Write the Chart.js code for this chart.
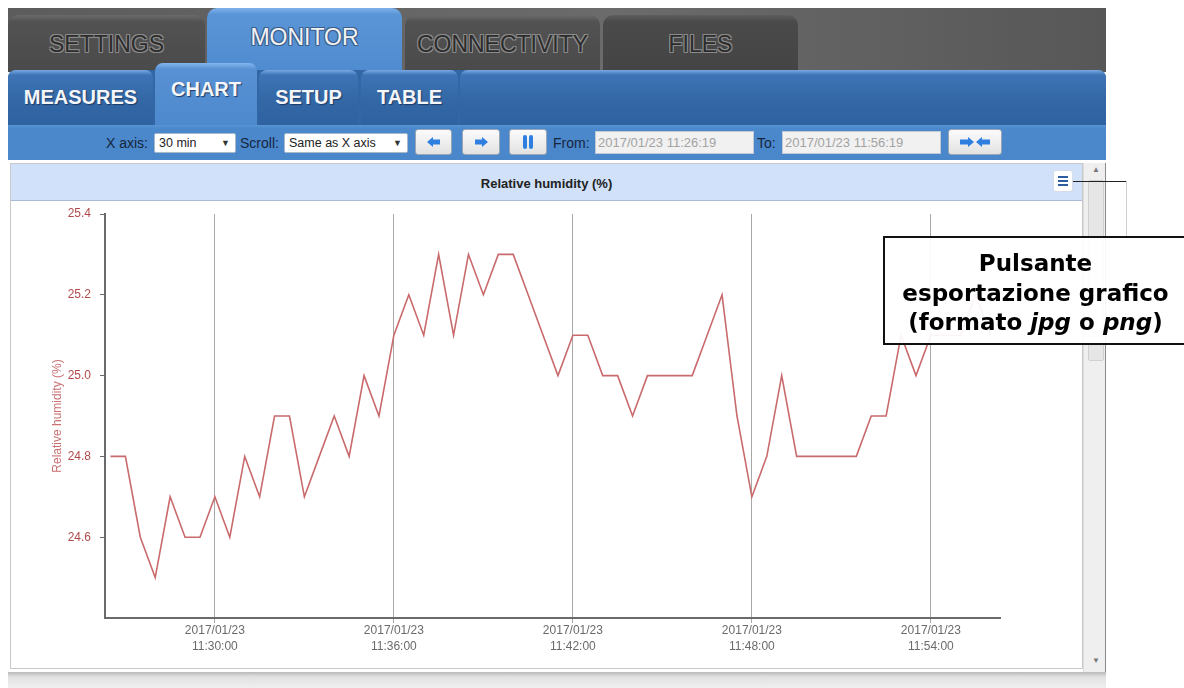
<!DOCTYPE html>
<html><head><meta charset="utf-8">
<script src="https://cdn.jsdelivr.net/npm/chart.js@4.4.1/dist/chart.umd.min.js"></script>
<style>
html,body{margin:0;padding:0;background:#fff;width:1184px;height:688px;overflow:hidden;font-family:"Liberation Sans",Arial,sans-serif;}
.a{position:absolute;box-sizing:border-box;}
.ttab{position:absolute;box-sizing:border-box;top:15px;height:57px;border-radius:10px 10px 0 0;background:linear-gradient(#6a6a6a,#525252 12%,#4a4a4a);font-size:23px;color:#2c2c2c;text-align:center;line-height:58px;
 text-shadow:-1px -1px 0 #8c8c8c,1px 1px 0 #8c8c8c,1px -1px 0 #8c8c8c,-1px 1px 0 #8c8c8c;}
.stab{position:absolute;box-sizing:border-box;top:70px;height:55px;border-radius:8px 8px 0 0;background:linear-gradient(#79a9e3,#3e74b6 5px,#3266a4 60%,#2f62a0);color:#f4f6fa;font-size:20px;font-weight:bold;text-align:center;line-height:54px;text-shadow:1px 1px 1px #1c3a66;}
.lbl{position:absolute;font-size:14px;color:#15263d;top:135px;}
.sel{position:absolute;box-sizing:border-box;top:133px;height:20px;background:#fff;border:1px solid #a9b9cc;border-radius:2px;font-size:12.5px;color:#222;line-height:18px;padding-left:4px;}
.sel span{position:absolute;right:5px;top:0;font-size:9px;color:#333;}
.btn{position:absolute;box-sizing:border-box;top:129px;height:26px;border:1px solid #9aa6b4;border-radius:3px;background:linear-gradient(#fbfbfb,#e2e2e2);display:flex;align-items:center;justify-content:center;}
.inp{position:absolute;box-sizing:border-box;top:131px;height:23px;width:159px;background:#f1f1f1;border:1px solid #c3c9d1;font-size:13px;color:#a3a3a3;line-height:21px;padding-left:2px;}
</style></head>
<body>
<!-- top tab bar -->
<div class="a" style="left:8px;top:8px;width:1098px;height:64px;background:linear-gradient(90deg,#5c5c5c,#6b6b6b 55%,#575757);"></div>
<div class="ttab" style="left:8px;width:197px;">SETTINGS</div>
<div class="a" style="left:207px;top:8px;width:195px;height:64px;border-radius:10px 10px 0 0;background:linear-gradient(#7fb2ec,#5a95d7 10%,#4f8bcf);color:#f2f2f2;font-size:23px;text-align:center;line-height:58px;text-shadow:-1px -1px 0 #3b5f8c,1px 1px 0 #3b5f8c,1px -1px 0 #3b5f8c,-1px 1px 0 #3b5f8c;">MONITOR</div>
<div class="ttab" style="left:405px;width:195px;">CONNECTIVITY</div>
<div class="ttab" style="left:603px;width:195px;background:linear-gradient(#5e5e5e,#4a4a4a 12%,#444);">FILES</div>
<!-- sub tab bar -->
<div class="a" style="left:8px;top:70px;width:1098px;height:55px;background:#3266a4;border-radius:8px 8px 0 0;"></div>
<div class="stab" style="left:8px;width:145px;">MEASURES</div>
<div class="stab" style="left:155px;top:63px;height:62px;width:102px;line-height:52px;background:linear-gradient(#84b6ee,#5891d4 6px,#4d89cd);">CHART</div>
<div class="stab" style="left:259px;width:99px;">SETUP</div>
<div class="stab" style="left:361px;width:97px;">TABLE</div>
<div class="stab" style="left:460px;width:646px;"></div>
<!-- toolbar -->
<div class="a" style="left:8px;top:125px;width:1098px;height:35px;background:linear-gradient(#5b95d6,#4b88cc 3px,#4a86ca);"></div>
<div class="lbl" style="left:106px;">X axis:</div>
<div class="sel" style="left:154px;width:82px;">30 min<span>&#9660;</span></div>
<div class="lbl" style="left:240px;">Scroll:</div>
<div class="sel" style="left:284px;width:124px;">Same as X axis<span>&#9660;</span></div>
<div class="btn" style="left:415px;width:37px;"><svg width="14" height="10"><polygon points="0,5 6,0 6,2.5 13,2.5 13,7.5 6,7.5 6,10" fill="#2f7fe0"/></svg></div>
<div class="btn" style="left:462px;width:38px;"><svg width="14" height="10"><polygon points="14,5 8,0 8,2.5 1,2.5 1,7.5 8,7.5 8,10" fill="#2f7fe0"/></svg></div>
<div class="btn" style="left:509px;width:38px;"><svg width="12" height="16"><rect x="1" y="1" width="4" height="14" rx="2" fill="#2f7fe0"/><rect x="7" y="1" width="4" height="14" rx="2" fill="#2f7fe0"/></svg></div>
<div class="lbl" style="left:553px;">From:</div>
<div class="inp" style="left:595px;">2017/01/23 11:26:19</div>
<div class="lbl" style="left:757px;">To:</div>
<div class="inp" style="left:782px;">2017/01/23 11:56:19</div>
<div class="btn" style="left:948px;width:54px;"><svg width="30" height="10"><polygon points="14,5 8,0 8,2.5 0,2.5 0,7.5 8,7.5 8,10" fill="#2f7fe0"/><polygon points="16,5 22,0 22,2.5 30,2.5 30,7.5 22,7.5 22,10" fill="#2f7fe0"/></svg></div>
<!-- chart panel -->
<div class="a" style="left:10px;top:163px;width:1073px;height:506px;border:1px solid #c9c9c9;background:#fff;"></div>
<div class="a" style="left:11px;top:164px;width:1071px;height:37px;background:#d0e1f9;border-bottom:1px solid #a9bad3;font-weight:bold;font-size:13px;color:#222;text-align:center;line-height:39px;">Relative humidity (%)</div>
<div class="a" style="left:1053px;top:170px;width:20px;height:22px;background:#fff;border:1px solid #d6dde8;border-radius:3px;">
 <div class="a" style="left:4px;top:5px;width:10px;height:2px;background:#2b5da0;"></div>
 <div class="a" style="left:4px;top:9px;width:10px;height:2px;background:#2b5da0;"></div>
 <div class="a" style="left:4px;top:13px;width:10px;height:2px;background:#2b5da0;"></div>
</div>
<!-- scrollbar -->
<div class="a" style="left:1083px;top:163px;width:23px;height:512px;background:#efefef;border-left:1px solid #dcdcdc;border-right:1px solid #8c8c8c;"></div>
<div class="a" style="left:1088px;top:180px;width:16px;height:181px;background:#e6e6e6;border:1px solid #d0d0d0;border-radius:2px;"></div>
<div class="a" style="left:1092px;top:165px;font-size:8px;color:#777;">&#9650;</div>
<div class="a" style="left:1092px;top:656px;font-size:8px;color:#777;">&#9660;</div>
<!-- bottom strip -->
<div class="a" style="left:8px;top:672px;width:1098px;height:16px;background:linear-gradient(#b9b9b9,#e2e2e2 5px,#efefef);"></div>
<!-- chart canvas -->
<canvas id="c" class="a" width="1070" height="466" style="left:11px;top:201px;width:1070px;height:466px;"></canvas>
<!-- callout -->
<div class="a" style="left:1073px;top:181px;width:54px;height:1px;background:#222;z-index:5;"></div>
<div class="a" style="left:1126px;top:181px;width:1px;height:55px;background:#cfcfcf;z-index:5;"></div>
<div class="a" style="left:883px;top:236px;width:305px;height:109px;border:2px solid #111;background:rgba(255,255,255,0.93);z-index:6;text-align:center;font-family:'DejaVu Sans',Verdana,sans-serif;font-weight:bold;font-size:23px;line-height:29.5px;padding-top:11px;color:#000;">Pulsante<br>esportazione grafico<br>(formato <i>jpg</i> o <i>png</i>)</div>
<script>
const dateLabel = "2017/01/23";
const axisStart = "11:26:19";
const axisEnd = "11:56:19";
const xTickTimes = ["11:30:00","11:36:00","11:42:00","11:48:00","11:54:00"];
const yTickValues = [24.6, 24.8, 25.0, 25.2, 25.4];
const yMin = 24.4, yMax = 25.4;
const sampleTimes = [
 "11:26:30","11:27:00","11:27:30","11:28:00","11:28:30","11:29:00","11:29:30","11:30:00","11:30:30","11:31:00",
 "11:31:30","11:32:00","11:32:30","11:33:00","11:33:30","11:34:00","11:34:30","11:35:00","11:35:30","11:36:00",
 "11:36:30","11:37:00","11:37:30","11:38:00","11:38:30","11:39:00","11:39:30","11:40:00","11:40:30","11:41:00",
 "11:41:30","11:42:00","11:42:30","11:43:00","11:43:30","11:44:00","11:44:30","11:45:00","11:45:30","11:46:00",
 "11:46:30","11:47:00","11:47:30","11:48:00","11:48:30","11:49:00","11:49:30","11:50:00","11:50:30","11:51:00",
 "11:51:30","11:52:00","11:52:30","11:53:00","11:53:30","11:54:00","11:54:30","11:55:00","11:55:30","11:56:00"];
const humidity = [
 24.8,24.8,24.6,24.5,24.7,24.6,24.6,24.7,24.6,24.8,
 24.7,24.9,24.9,24.7,24.8,24.9,24.8,25.0,24.9,25.1,
 25.2,25.1,25.3,25.1,25.3,25.2,25.3,25.3,25.2,25.1,
 25.0,25.1,25.1,25.0,25.0,24.9,25.0,25.0,25.0,25.0,
 25.1,25.2,24.9,24.7,24.8,25.0,24.8,24.8,24.8,24.8,
 24.8,24.9,24.9,25.1,25.0,25.1,25.1,25.1,25.2,25.1];
const seriesName = "Relative humidity (%)";

function toSec(s){const p=s.split(':').map(Number);return p[0]*3600+p[1]*60+p[2];}
const FONT = "'Liberation Sans', Arial, sans-serif";

new Chart(document.getElementById('c'), {
  type: 'line',
  data: { datasets: [{
    label: seriesName,
    data: sampleTimes.map((t,i)=>({x:toSec(t), y:humidity[i]})),
    borderColor: '#c96a6c', borderWidth: 1.6, pointRadius: 0, tension: 0, fill: false
  }]},
  options: {
    responsive: false, animation: false, devicePixelRatio: 1,
    layout: { padding: { left: 30, top: 13, right: 81, bottom: 0 } },
    plugins: { legend: { display: false }, tooltip: { enabled: false } },
    scales: {
      x: {
        type: 'linear', min: toSec(axisStart), max: toSec(axisEnd),
        afterBuildTicks: s => { s.ticks = xTickTimes.map(t => ({ value: toSec(t) })); },
        afterFit: s => { s.height = 49; s.paddingLeft = 0; s.paddingRight = 0; },
        ticks: {
          autoSkip: false, maxRotation: 0, padding: 0, color: '#6a6a6a',
          font: { family: FONT, size: 12, lineHeight: 1.3 },
          callback: (v) => { const i = xTickTimes.findIndex(t => toSec(t) === v); return i < 0 ? '' : [dateLabel, xTickTimes[i]]; }
        },
        grid: { color: '#a8a8a8', lineWidth: 1, tickLength: 5 },
        border: { color: '#6a6a6a', width: 2 }
      },
      y: {
        min: yMin, max: yMax,
        afterBuildTicks: s => { s.ticks = yTickValues.map(v => ({ value: v })); },
        afterFit: s => { s.width = 64; s.paddingTop = 0; s.paddingBottom = 0; },
        ticks: { padding: 9, color: '#b24a4c', font: { family: FONT, size: 12 }, callback: v => Number(v).toFixed(1) },
        grid: { drawOnChartArea: false, tickLength: 5, color: '#6a6a6a' },
        border: { color: '#6a6a6a', width: 2 },
        title: { display: true, text: seriesName, color: '#c87072', font: { family: FONT, size: 12 }, padding: { top: 9, bottom: 0 } }
      }
    }
  }
});
</script>
</body></html>
